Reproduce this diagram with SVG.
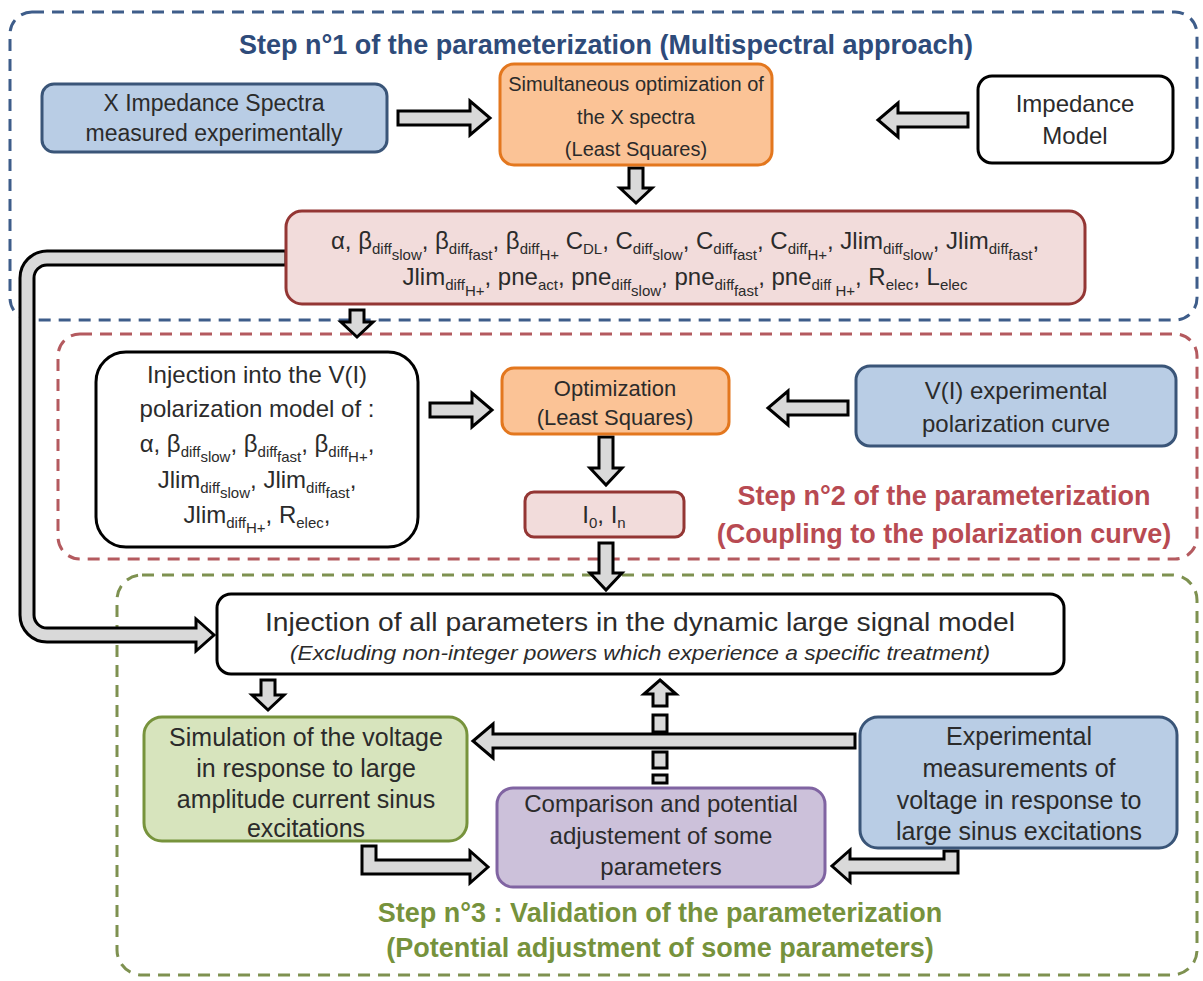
<svg xmlns="http://www.w3.org/2000/svg" width="1203" height="981" viewBox="0 0 1203 981">
<style>
.t{font-family:"Liberation Sans",Arial,sans-serif;fill:#2b2b2b;text-anchor:middle}
.f20{font-size:20px}
.f22{font-size:22px}
.f23{font-size:23px}
.f24{font-size:24px}
.f25{font-size:25px}
.f26{font-size:26px}
.sb{font-size:15px}
.it{font-style:italic;font-size:21px}
.ttl{font-family:"Liberation Sans",Arial,sans-serif;font-weight:bold;text-anchor:middle;font-size:27px}
.reg{fill:none;stroke-width:3;stroke-dasharray:12 8}
.ar{fill:#D9D9D9;stroke:#000;stroke-width:3;stroke-linejoin:miter}
.blue{fill:#B9CDE5;stroke:#3A5578;stroke-width:3}
.orange{fill:#FBC396;stroke:#E3771E;stroke-width:3}
.white{fill:#fff;stroke:#000;stroke-width:3}
.pink{fill:#F2DCDB;stroke:#943634;stroke-width:3}
.green{fill:#D7E4BD;stroke:#77933C;stroke-width:3}
.purple{fill:#CCC1DA;stroke:#8064A2;stroke-width:3}
</style>

<g id="regions">
  <rect class="reg" x="10" y="12" width="1187" height="308" rx="22" stroke="#3E5D8A"/>
  <rect class="reg" x="58" y="334" width="1139" height="225" rx="22" stroke="#B45A5F"/>
  <rect class="reg" x="117" y="575" width="1080" height="400" rx="25" stroke="#7E9150"/>
  <text class="ttl" x="606" y="54" fill="#2E4B7A">Step n°1 of the parameterization (Multispectral approach)</text>
  <text class="ttl" x="944" y="505" fill="#B84A52">Step n°2 of the parameterization</text>
  <text class="ttl" x="944" y="543" fill="#B84A52">(Coupling to the polarization curve)</text>
  <text class="ttl" x="660" y="922" fill="#76923C">Step n°3 : Validation of the parameterization</text>
  <text class="ttl" x="660" y="957" fill="#76923C">(Potential adjustment of some parameters)</text>
</g>

<g id="connectors">
  <path class="ar" d="M398 111 H470 V101 L490 118 L470 135 V125 H398 Z"/>
  <path class="ar" d="M968 113 H898 V103 L878 120 L898 137 V127 H968 Z"/>
  <path class="ar" d="M629 168 V188 H620 L636 203 L652 188 H643 V168 Z"/>
  <path class="ar" d="M286 251 H47 A27 27 0 0 0 20 278 V615 A27 27 0 0 0 47 642 H196 V651 L214 635 L196 619 V628 H47 A13 13 0 0 1 34 615 V278 A13 13 0 0 1 47 265 H286 Z"/>
  <path class="ar" d="M350 310 V322 H341 L357 337 L373 322 H364 V310 Z"/>
  <path class="ar" d="M430 403 H472 V393 L492 410 L472 427 V417 H430 Z"/>
  <path class="ar" d="M848 401 H788 V391 L768 408 L788 425 V415 H848 Z"/>
  <path class="ar" d="M599 437 V468 H590 L606 485 L622 468 H613 V437 Z"/>
  <path class="ar" d="M599 543 V573 H590 L606 590 L622 573 H613 V543 Z"/>
  <path class="ar" d="M261 680 V695 H252 L268 710 L284 695 H275 V680 Z"/>
  <path class="ar" d="M660 680 L676 694 H667 V706 H653 V694 H644 Z"/>
  <rect class="ar" x="653" y="715" width="14" height="17"/>
  <rect class="ar" x="653" y="752" width="14" height="16"/>
  <rect class="ar" x="653" y="775" width="14" height="8"/>
  <path class="ar" d="M855 734 H493 V724 L473 741 L493 758 V748 H855 Z"/>
  <path class="ar" d="M362 846 H376 V860 H470 V851 L488 867 L470 883 V874 H362 Z"/>
  <path class="ar" d="M958 851 V873 H850 V882 L832 866 L850 850 V859 H944 V851 Z"/>
</g>

<g id="n_spectra">
  <rect class="blue" x="42" y="84" width="345" height="68" rx="12"/>
  <text class="t f23" x="214" y="111">X Impedance Spectra</text>
  <text class="t f23" x="214" y="141">measured experimentally</text>
</g>
<g id="n_simopt">
  <rect class="orange" x="500" y="64" width="272" height="101" rx="14"/>
  <text class="t f20" x="636" y="91">Simultaneous optimization of</text>
  <text class="t f20" x="636" y="124">the X spectra</text>
  <text class="t f20" x="636" y="156">(Least Squares)</text>
</g>
<g id="n_impmodel">
  <rect class="white" x="978" y="76" width="195" height="87" rx="14"/>
  <text class="t f24" x="1075" y="112">Impedance</text>
  <text class="t f24" x="1075" y="144">Model</text>
</g>
<g id="n_params">
  <rect class="pink" x="286" y="211" width="799" height="93" rx="16"/>
  <text class="t f24" x="685" y="249">α, β<tspan class="sb" dy="5">diff</tspan><tspan class="sb" dy="6">slow</tspan><tspan dy="-11">, β</tspan><tspan class="sb" dy="5">diff</tspan><tspan class="sb" dy="6">fast</tspan><tspan dy="-11">, β</tspan><tspan class="sb" dy="5">diff</tspan><tspan class="sb" dy="6">H+</tspan><tspan dy="-11"> C</tspan><tspan class="sb" dy="5">DL</tspan><tspan dy="-5">, C</tspan><tspan class="sb" dy="5">diff</tspan><tspan class="sb" dy="6">slow</tspan><tspan dy="-11">, C</tspan><tspan class="sb" dy="5">diff</tspan><tspan class="sb" dy="6">fast</tspan><tspan dy="-11">, C</tspan><tspan class="sb" dy="5">diff</tspan><tspan class="sb" dy="6">H+</tspan><tspan dy="-11">, Jlim</tspan><tspan class="sb" dy="5">diff</tspan><tspan class="sb" dy="6">slow</tspan><tspan dy="-11">, Jlim</tspan><tspan class="sb" dy="5">diff</tspan><tspan class="sb" dy="6">fast</tspan><tspan dy="-11">,</tspan></text>
  <text class="t f24" x="685" y="285">Jlim<tspan class="sb" dy="5">diff</tspan><tspan class="sb" dy="6">H+</tspan><tspan dy="-11">, pne</tspan><tspan class="sb" dy="5">act</tspan><tspan dy="-5">, pne</tspan><tspan class="sb" dy="5">diff</tspan><tspan class="sb" dy="6">slow</tspan><tspan dy="-11">, pne</tspan><tspan class="sb" dy="5">diff</tspan><tspan class="sb" dy="6">fast</tspan><tspan dy="-11">, pne</tspan><tspan class="sb" dy="5">diff </tspan><tspan class="sb" dy="6">H+</tspan><tspan dy="-11">, R</tspan><tspan class="sb" dy="5">elec</tspan><tspan dy="-5">, L</tspan><tspan class="sb" dy="5">elec</tspan></text>
</g>
<g id="n_injvi">
  <rect class="white" x="96" y="352" width="322" height="195" rx="30"/>
  <text class="t f24" x="257" y="383">Injection into the V(I)</text>
  <text class="t f24" x="257" y="417">polarization model of :</text>
  <text class="t f24" x="257" y="452">α, β<tspan class="sb" dy="5">diff</tspan><tspan class="sb" dy="5">slow</tspan><tspan dy="-10">, β</tspan><tspan class="sb" dy="5">diff</tspan><tspan class="sb" dy="5">fast</tspan><tspan dy="-10">, β</tspan><tspan class="sb" dy="5">diff</tspan><tspan class="sb" dy="5">H+</tspan><tspan dy="-10">,</tspan></text>
  <text class="t f24" x="257" y="488">Jlim<tspan class="sb" dy="5">diff</tspan><tspan class="sb" dy="5">slow</tspan><tspan dy="-10">, Jlim</tspan><tspan class="sb" dy="5">diff</tspan><tspan class="sb" dy="5">fast</tspan><tspan dy="-10">,</tspan></text>
  <text class="t f24" x="257" y="523">Jlim<tspan class="sb" dy="5">diff</tspan><tspan class="sb" dy="5">H+</tspan><tspan dy="-10">, R</tspan><tspan class="sb" dy="5">elec</tspan><tspan dy="-5">,</tspan></text>
</g>
<g id="n_opt">
  <rect class="orange" x="502" y="368" width="227" height="66" rx="12"/>
  <text class="t f22" x="615" y="396">Optimization</text>
  <text class="t f22" x="615" y="425">(Least Squares)</text>
</g>
<g id="n_vicurve">
  <rect class="blue" x="856" y="366" width="320" height="80" rx="14"/>
  <text class="t f24" x="1016" y="399">V(I) experimental</text>
  <text class="t f24" x="1016" y="432">polarization curve</text>
</g>
<g id="n_i0">
  <rect class="pink" x="525" y="492" width="159" height="45" rx="9"/>
  <text class="t f24" x="604" y="523">I<tspan class="sb" dy="5">0</tspan><tspan dy="-5">, I</tspan><tspan class="sb" dy="5">n</tspan></text>
</g>
<g id="n_injall">
  <rect class="white" x="217" y="594" width="847" height="80" rx="14"/>
  <text class="t f26" x="640" y="631" textLength="750" lengthAdjust="spacingAndGlyphs">Injection of all parameters in the dynamic large signal model</text>
  <text class="t it" x="640" y="660" textLength="700" lengthAdjust="spacingAndGlyphs">(Excluding non-integer powers which experience a specific treatment)</text>
</g>
<g id="n_sim">
  <rect class="green" x="144" y="717" width="323" height="124" rx="18"/>
  <text class="t f25" x="306" y="746">Simulation of the voltage</text>
  <text class="t f25" x="306" y="777">in response to large</text>
  <text class="t f25" x="306" y="808">amplitude current sinus</text>
  <text class="t f25" x="306" y="837">excitations</text>
</g>
<g id="n_comp">
  <rect class="purple" x="497" y="788" width="328" height="99" rx="16"/>
  <text class="t f24" x="661" y="812">Comparison and potential</text>
  <text class="t f24" x="661" y="844">adjustement of some</text>
  <text class="t f24" x="661" y="875">parameters</text>
</g>
<g id="n_expmeas">
  <rect class="blue" x="860" y="717" width="317" height="131" rx="18"/>
  <text class="t f25" x="1019" y="745">Experimental</text>
  <text class="t f25" x="1019" y="777">measurements of</text>
  <text class="t f25" x="1019" y="809">voltage in response to</text>
  <text class="t f25" x="1019" y="840">large sinus excitations</text>
</g>
</svg>
